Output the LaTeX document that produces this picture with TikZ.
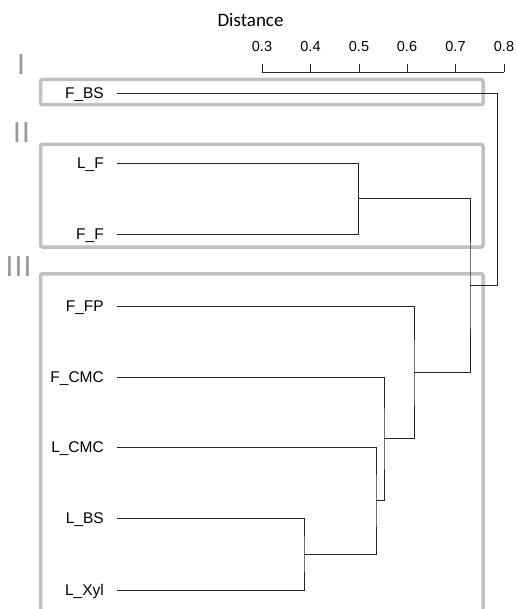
\documentclass[tikz,border=0pt]{standalone}
\usepackage{fontspec}
\setmainfont{Liberation Sans}
\newfontfamily\calfont{Carlito}
\newfontfamily\romanfont[LetterSpace=4]{Carlito}
\definecolor{boxgray}{HTML}{C0C0C0}
\definecolor{numgray}{HTML}{999999}
\tikzset{
  leaf/.style={anchor=east, inner xsep=13pt, inner ysep=0pt, text height=11pt, text depth=0pt, font=\fontsize{15.5}{18}\selectfont},
  link/.style={draw=black!85, line width=0.9pt},
  group/.style={draw=boxgray, line width=3.5pt, rounded corners=2pt},
  roman/.style={anchor=base, text=numgray, inner sep=0pt, font=\romanfont\fontsize{31}{33}\selectfont},
  ticklabel/.style={anchor=base, inner sep=0pt, font=\fontsize{14.5}{16}\selectfont}
}
\newcommand{\leaf}[3]{\node[leaf] (#1) at (117,#2) {#3};}
\newcommand{\axtick}[3]{\draw[link] (#2,64) -- (#2,72); \node[ticklabel] (#1) at (#2,51.5) {#3};}

\begin{document}
\begin{tikzpicture}[x=1pt,y=-1pt]
        \useasboundingbox (0,0) rectangle (517,609);
        % axis
        \node[anchor=base, inner sep=0pt, font=\calfont\fontsize{19}{22}\selectfont] (dist) at (250.5,27) {Distance};
        \draw[link] (262,72) -- (504,72);
        \axtick{t3}{262}{0.3}
        \axtick{t4}{310.5}{0.4}
        \axtick{t5}{359}{0.5}
        \axtick{t6}{407}{0.6}
        \axtick{t7}{455.5}{0.7}
        \axtick{t8}{504}{0.8}
        % groups
        \draw[group] (40.5,79.5) rectangle (483,104.7);
        \draw[group] (40.5,144.3) rectangle (483,247);
        \draw[group] (40.5,609) |- (483,273.8) -- (483,609);
        \node[roman] (g1) at (21,75) {I};
        \node[roman] (g2) at (21.5,143) {II};
        \node[roman] (g3) at (18.5,276) {III};
        % leaves
        \leaf{fbs}{93}{F\_BS}
        \leaf{lf}{163}{L\_F}
        \leaf{ff}{234}{F\_F}
        \leaf{ffp}{306}{F\_FP}
        \leaf{fcmc}{377}{F\_CMC}
        \leaf{lcmc}{447}{L\_CMC}
        \leaf{lbs}{518}{L\_BS}
        \leaf{lxyl}{590}{L\_Xyl}
        % merges
        \coordinate (m1) at (304,554);
        \coordinate (m2) at (376,500.5);
        \coordinate (m3) at (384,438.8);
        \coordinate (m4) at (414,372.4);
        \coordinate (m5) at (358.5,198.5);
        \coordinate (m6) at (470,285.4);
        \coordinate (m7) at (497,189);
        \draw[link] (lbs) -| (m1) |- (lxyl);
        \draw[link] (lcmc) -| (m2) |- (m1);
        \draw[link] (fcmc) -| (m3) |- (m2);
        \draw[link] (ffp) -| (m4) |- (m3);
        \draw[link] (lf) -| (m5) |- (ff);
        \draw[link] (m5) -| (m6) |- (m4);
        \draw[link] (fbs) -| (m7) |- (m6);
\end{tikzpicture}
\end{document}
